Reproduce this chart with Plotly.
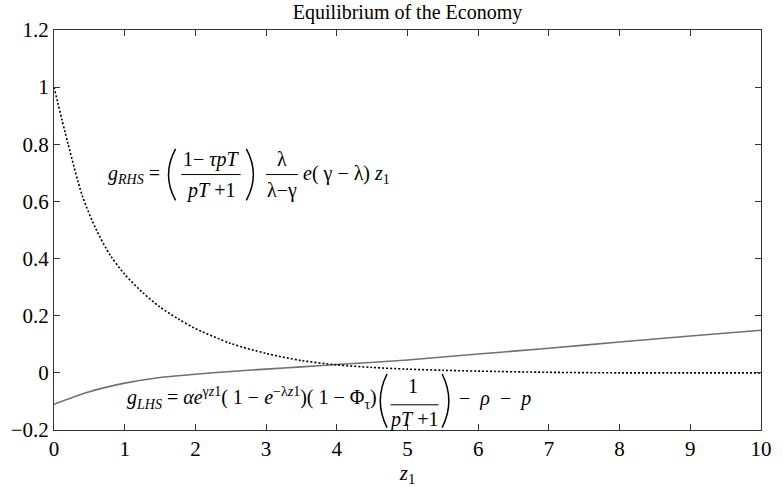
import plotly.graph_objects as go

# Sample points of the two growth-rate curves against z1
z_rhs = [0, 0.2, 0.4, 0.6, 0.8, 1.0, 1.25, 1.5, 1.75, 2.0, 2.5, 3.0, 3.5, 4.0,
         4.5, 5.0, 5.5, 6.0, 7.0, 8.0, 9.0, 10.0]
g_rhs = [1.0, 0.80, 0.62, 0.50, 0.41, 0.345, 0.282, 0.23, 0.19, 0.155, 0.103, 0.068,
         0.043, 0.028, 0.019, 0.013, 0.009, 0.006, 0.002, 0.0, 0.0, 0.0]

z_lhs = [0, 0.5, 1.0, 1.5, 2.0, 2.5, 3.0, 3.5, 4.0, 5.0, 6.0, 7.0, 8.0, 9.0, 10.0]
g_lhs = [-0.110, -0.066, -0.036, -0.016, -0.005, 0.005, 0.013, 0.021, 0.029,
         0.045, 0.066, 0.086, 0.108, 0.129, 0.149]

x_ticks = list(range(0, 11))
y_ticks = [-0.2, 0, 0.2, 0.4, 0.6, 0.8, 1.0, 1.2]

FONT = "Liberation Serif, Times New Roman, serif"

fig = go.Figure()
fig.add_trace(go.Scatter(x=z_lhs, y=g_lhs, mode="lines",
                         line=dict(color="#707070", width=1.6, shape="spline", smoothing=0.8),
                         showlegend=False))
fig.add_trace(go.Scatter(x=z_rhs, y=g_rhs, mode="lines",
                         line=dict(color="black", width=1.6, dash="2px,2px",
                                   shape="spline", smoothing=0.8),
                         showlegend=False))

axis_common = dict(showline=True, linecolor="#333333", linewidth=1, mirror="ticks",
                   ticks="inside", ticklen=6, tickcolor="#333333", showgrid=False,
                   zeroline=False, tickfont=dict(family=FONT, size=21, color="black"))

fig.update_xaxes(range=[0, 10], tickvals=x_ticks,
                 title=dict(text="<i>z</i><sub>1</sub>", font=dict(family=FONT, size=21, color="black"),
                            standoff=0),
                 **axis_common)
fig.update_yaxes(range=[-0.2, 1.2], tickvals=y_ticks, **axis_common)


def text(x, y, s, size=20, xanchor="center"):
    fig.add_annotation(x=x, y=y, xref="paper", yref="paper", text=s, showarrow=False,
                       xanchor=xanchor, yanchor="middle",
                       font=dict(family=FONT, size=size, color="black"))


def bar(x0, x1, y):
    fig.add_shape(type="line", xref="paper", yref="paper", x0=x0, x1=x1, y0=y, y1=y,
                  line=dict(color="black", width=1))


def paren(x_end, x_ctrl, y_top, y_bot):
    # tall bracket drawn as a quadratic curve
    y_mid = (y_top + y_bot) / 2
    fig.add_shape(type="path", xref="paper", yref="paper",
                  path=f"M {x_end},{y_top} Q {x_ctrl},{y_mid} {x_end},{y_bot}",
                  line=dict(color="black", width=1.5))


# g_RHS expression
text(0.1530, 0.6386, "<i>g<sub>RHS</sub></i> =", xanchor="right")
paren(0.1720, 0.1520, 0.703, 0.574)
text(0.2220, 0.677, "1− <i>τpT</i>")
bar(0.1800, 0.2640, 0.6386)
text(0.2220, 0.600, "<i>pT</i> +1")
paren(0.2720, 0.2920, 0.703, 0.574)
text(0.3230, 0.677, "λ")
bar(0.3000, 0.3450, 0.6386)
text(0.3230, 0.600, "λ−γ")
text(0.3500, 0.6386, "<i>e</i>( γ − λ) <i>z</i><sub>1</sub>", xanchor="left")

# g_LHS expression
text(0.1001, 0.079,
     "<i>g<sub>LHS</sub></i> = <i>αe</i><sup>γ<i>z</i>1</sup>( 1 − <i>e</i><sup>−λ<i>z</i>1</sup>)( 1 − Φ<sub>τ</sub>)",
     xanchor="left")
paren(0.4710, 0.4520, 0.140, 0.006)
text(0.5080, 0.110, "1")
bar(0.4760, 0.5440, 0.063)
text(0.5080, 0.027, "<i>pT</i> +1")
paren(0.5490, 0.5680, 0.140, 0.006)
text(0.5700, 0.079, "−  <i>ρ</i>  −  <i>p</i>", xanchor="left")

fig.update_layout(
    width=783, height=487,
    margin=dict(l=53, r=11, t=30, b=42),
    paper_bgcolor="white", plot_bgcolor="white",
    title=dict(text="Equilibrium of the Economy", x=0.5, xref="paper", xanchor="center",
               y=1 - 12 / 487, yref="container", yanchor="middle",
               font=dict(family=FONT, size=20, color="black")),
)

fig.write_html("out.html")
